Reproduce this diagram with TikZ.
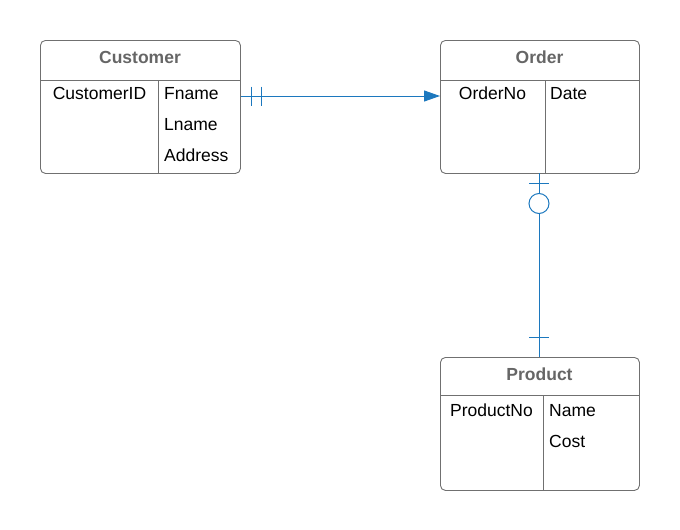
\documentclass[tikz,border=0pt]{standalone}
\usepackage{fontspec}
\setmainfont{Liberation Sans}
\usetikzlibrary{arrows.meta,calc}
\definecolor{lineblue}{HTML}{1C78BE}
\definecolor{boxgrey}{HTML}{707070}
\definecolor{headgrey}{HTML}{666666}
\tikzset{
  entity/.style={draw=boxgrey, line width=0.9pt, rounded corners=5pt, minimum width=200pt, minimum height=133pt, anchor=north west, inner sep=0pt},
  sep/.style={draw=boxgrey, line width=0.9pt},
  head/.style={font=\fontsize{17.5}{20}\selectfont\bfseries, text=headgrey, anchor=base, inner sep=0pt},
  attr/.style={font=\fontsize{17.5}{20}\selectfont, text=black, inner sep=0pt},
  conn/.style={draw=lineblue, line width=1pt},
  tickmark/.style={draw=lineblue, line width=1pt},
}
\begin{document}
\begin{tikzpicture}[x=1pt,y=-1pt]
\useasboundingbox (0,0) rectangle (680,530);
% Customer
\node[entity] (cust) at (40,40) {};
\draw[sep] (40,80) -- (240,80);
\draw[sep] (158,80) -- (158,173);
\node[head] (custh) at (140,63.5) {Customer};
\node[attr, anchor=base] (custid) at (99.5,99.5) {CustomerID};
\node[attr, anchor=base west] (fname) at (164,99.5) {Fname};
\node[attr, anchor=base west] (lname) at (164,130.5) {Lname};
\node[attr, anchor=base west] (addr) at (164,161.5) {Address};
% Order
\node[entity, minimum width=199pt] (ord) at (440,40) {};
\draw[sep] (440,80) -- (639,80);
\draw[sep] (545,80) -- (545,173);
\node[head] (ordh) at (539.5,63.5) {Order};
\node[attr, anchor=base] (ordno) at (492.5,99.5) {OrderNo};
\node[attr, anchor=base west] (date) at (550,99.5) {Date};
% Product
\node[entity, minimum width=199pt] (prod) at (440,357) {};
\draw[sep] (440,395) -- (639,395);
\draw[sep] (543,395) -- (543,490);
\node[head] (prodh) at (539.5,380.5) {Product};
\node[attr, anchor=base] (prodno) at (491.5,416.5) {ProductNo};
\node[attr, anchor=base west] (pname) at (549,416.5) {Name};
\node[attr, anchor=base west] (cost) at (549,447.5) {Cost};
% Customer -> Order
\coordinate (c1) at (cust.east |- 0,96);
\coordinate (o1) at (ord.west |- 0,96);
\draw[conn, -{Triangle[length=16pt,width=11pt]}] (c1) -- (o1);
\draw[tickmark] ($(c1)+(10.5,-9.5)$) -- ($(c1)+(10.5,9.5)$);
\draw[tickmark] ($(c1)+(20.5,-9.5)$) -- ($(c1)+(20.5,9.5)$);
% Order -- Product
\coordinate (o2) at (539,173);
\coordinate (p2) at (539,357);
\coordinate (circ) at (539,203.5);
\draw[conn] (o2) -- ($(circ)+(0,-10)$);
\draw[conn] ($(circ)+(0,10)$) -- (p2);
\draw[tickmark] (circ) circle (10pt);
\draw[tickmark] (529,183.5) -- (549,183.5);
\draw[tickmark] (529,337.5) -- (549,337.5);
\end{tikzpicture}
\end{document}
